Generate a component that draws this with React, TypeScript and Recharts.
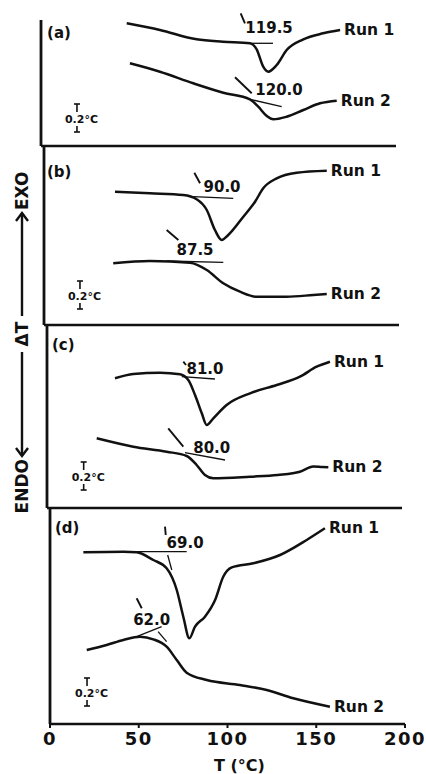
import { LineChart, Line, XAxis, YAxis, ReferenceLine, ReferenceDot } from 'recharts';

type Pt = [number, number];
type Note = { text: string; t: number; y: number };

// T (°C) vs. ΔT trace height above each panel's baseline (arbitrary units)
const A_RUN1: Pt[] = [[48.3, 122.7], [67, 116], [87.7, 106.7], [102.5, 104.3], [117.7, 102.7], [121.5, 96.7], [125.2, 79.3], [128, 74.3], [132.8, 81], [138.4, 96], [147.8, 106.7], [159, 112.7], [168.5, 116]];
const A_RUN2: Pt[] = [[50.1, 82.7], [67, 74.3], [85.8, 62.7], [102.7, 53.3], [117.7, 46.7], [122.4, 39.3], [127.2, 30], [130.9, 26.7], [138.4, 29.3], [147.8, 36], [157.2, 42.7], [166.6, 45.3]];
const B_RUN1: Pt[] = [[40, 133.3], [59.7, 131.7], [78.5, 130], [86, 125.7], [91.7, 115], [96.3, 95], [100.1, 85], [103.8, 90], [112.3, 108.3], [118.9, 123.3], [123.5, 136.7], [131.1, 146.7], [142.4, 152.3], [159.3, 154.3]];
const B_RUN2: Pt[] = [[39, 61.7], [59.7, 64], [82.3, 62.3], [91.7, 55], [101, 41.7], [110.4, 33.3], [119.8, 28.3], [136.7, 28.3], [151.7, 30], [159.3, 31]];
const C_RUN1: Pt[] = [[38.3, 129.7], [48.6, 134], [63.7, 135.3], [74.9, 133.7], [79.6, 128], [83.4, 113], [87.2, 94.7], [90, 83], [93.7, 89.7], [101.2, 103], [114.4, 114.7], [129.4, 123], [142.5, 131.3], [151.9, 141.3], [159.4, 146.3]];
const C_RUN2: Pt[] = [[28, 69.7], [48.6, 61.3], [67.4, 56.3], [78.7, 52], [84.3, 43], [89, 33], [93.7, 29.7], [114.4, 31.3], [130, 33], [142.5, 36.3], [150, 41.5], [155, 41], [158.5, 40.7]];
const D_RUN1: Pt[] = [[18.8, 171.7], [41.3, 172.3], [48.8, 171.7], [58.2, 164], [65.7, 155.7], [71.4, 134], [75.1, 107.3], [78.5, 85.7], [81.7, 97.3], [87.3, 107.3], [93, 124], [97.6, 147.3], [102.4, 156.7], [114.5, 160.7], [129.6, 169], [144.6, 184], [154.9, 195.7]];
const D_RUN2: Pt[] = [[20.7, 74], [31.9, 79], [41.3, 84], [50.7, 87.3], [58.2, 84.7], [65.7, 77.3], [71.4, 64], [77, 51.3], [88.3, 44], [107, 39], [122.1, 34], [137.1, 25.7], [157.7, 17.3]];

// onset construction lines
const A_TANGENTS: [Pt, Pt][] = [[[113.8, 102.7], [130.7, 102.7]], [[117.7, 46.7], [135.6, 39.3]]];
const B_TANGENTS: [Pt, Pt][] = [[[84.1, 128.3], [106.6, 126.7]], [[69.1, 64], [101, 62.7]]];
const C_TANGENTS: [Pt, Pt][] = [[[75.9, 131.3], [94.6, 129]], [[77.7, 55.3], [100.3, 48]]];
const D_TANGENTS: [Pt, Pt][] = [[[41.3, 172.3], [77, 172.3]], [[66.3, 169], [68.6, 154]], [[48.8, 87.3], [62.9, 97.3]], [[60.9, 92.3], [65.7, 82.3]]];

const A_TICKS: [Pt, Pt][] = [[[112.5, 132.7], [114.9, 122.7]], [[109.3, 68.7], [118.7, 52.7]]];
const B_TICKS: [Pt, Pt][] = [[[84.7, 152.3], [87.9, 141.7]], [[69.1, 95], [75.7, 85]]];
const C_TICKS: [Pt, Pt][] = [[[76.8, 146.3], [78.3, 143]], [[68.3, 79.7], [76.8, 61.3]]];
const D_TICKS: [Pt, Pt][] = [[[64.8, 197.3], [65.2, 189]], [[48.8, 125.7], [51.7, 115.7]]];

const A_NOTES: Note[] = [{ text: '119.5', t: 128.5, y: 118 }, { text: '120.0', t: 134.1, y: 56.5 }];
const B_NOTES: Note[] = [{ text: '90.0', t: 100.3, y: 138.3 }, { text: '87.5', t: 85.1, y: 75 }];
const C_NOTES: Note[] = [{ text: '81.0', t: 89, y: 138.7 }, { text: '80.0', t: 92.8, y: 59.7 }];
const D_NOTES: Note[] = [{ text: '69.0', t: 76.1, y: 180.7 }, { text: '62.0', t: 57.3, y: 104 }];

const X_TICKS = [0, 50, 100, 150, 200];
const RUN_NAMES = ['Run 1', 'Run 2'];

const FONT = "'DejaVu Sans', sans-serif";
const INK = '#111';

const toRows = (pts: Pt[]) => pts.map(([t, y]) => ({ t, y }));

const PANELS = [
  { tag: '(a)', tagAt: [3.4, 113] as Pt, scaleAt: [13.5, 27] as Pt, runs: [A_RUN1, A_RUN2], tangents: A_TANGENTS, ticks: A_TICKS, notes: A_NOTES, top: 6, plotH: 140, axisTop: 126, left: 41 },
  { tag: '(b)', tagAt: [1.7, 153] as Pt, scaleAt: [13.5, 29] as Pt, runs: [B_RUN1, B_RUN2], tangents: B_TANGENTS, ticks: B_TICKS, notes: B_NOTES, top: 146, plotH: 179, axisTop: 179, left: 44 },
  { tag: '(c)', tagAt: [2.8, 163] as Pt, scaleAt: [13.9, 31] as Pt, runs: [C_RUN1, C_RUN2], tangents: C_TANGENTS, ticks: C_TICKS, notes: C_NOTES, top: 325, plotH: 183, axisTop: 183, left: 47 },
  { tag: '(d)', tagAt: [2.8, 196] as Pt, scaleAt: [14.1, 31] as Pt, runs: [D_RUN1, D_RUN2], tangents: D_TANGENTS, ticks: D_TICKS, notes: D_NOTES, top: 508, plotH: 216, axisTop: 216, left: 50 },
];

function TextAt({ cx, cy, text, anchor = 'middle', size = 15, dx = 0 }: { cx?: number; cy?: number; text: string; anchor?: 'start' | 'middle' | 'end'; size?: number; dx?: number }) {
  return (
    <text x={(cx ?? 0) + dx} y={cy} textAnchor={anchor} dominantBaseline="central" fontFamily={FONT} fontWeight={700} fontSize={size} fill={INK}>
      {text}
    </text>
  );
}

// little "0.2°C" calibration marker
function ScaleMark({ cx = 0, cy = 0 }: { cx?: number; cy?: number }) {
  const bx = cx + 12;
  return (
    <g stroke={INK} strokeWidth={1.6}>
      <line x1={bx - 3} y1={cy - 15} x2={bx + 3} y2={cy - 15} />
      <line x1={bx} y1={cy - 15} x2={bx} y2={cy - 7} />
      <line x1={bx} y1={cy + 7} x2={bx} y2={cy + 13} />
      <line x1={bx - 3} y1={cy + 13} x2={bx + 3} y2={cy + 13} />
      <text x={cx} y={cy} dominantBaseline="central" fontFamily={FONT} fontWeight={700} fontSize={11} fill={INK} stroke="none">
        0.2°C
      </text>
    </g>
  );
}

function AxisTitle({ viewBox }: { viewBox?: { x: number; y: number; width: number; height: number } }) {
  if (!viewBox) return null;
  return (
    <text x={viewBox.x + viewBox.width / 2 + 12} y={viewBox.y + 41} textAnchor="middle" dominantBaseline="central" fontFamily={FONT} fontWeight={700} fontSize={16} fill={INK}>
      T (°C)
    </text>
  );
}

function Panel({ p, last }: { p: (typeof PANELS)[number]; last: boolean }) {
  const axisH = last ? 50 : 8;
  const width = 426;
  return (
    <div style={{ position: 'absolute', left: 0, top: p.top }}>
      <LineChart width={width} height={p.plotH + axisH} margin={{ top: 0, right: width - p.left - 355, bottom: 0, left: p.left }}>
        <XAxis
          type="number"
          dataKey="t"
          domain={[0, 200]}
          ticks={X_TICKS}
          interval={0}
          height={axisH}
          axisLine={{ stroke: INK, strokeWidth: 2.6 }}
          tickLine={{ stroke: INK, strokeWidth: 2 }}
          tickSize={4}
          tickMargin={4}
          tick={last ? { fill: INK, fontSize: 18, fontWeight: 700, fontFamily: FONT, letterSpacing: 1.5 } : false}
          label={last ? <AxisTitle /> : undefined}
        />
        <YAxis hide type="number" domain={[0, p.plotH]} />
        <ReferenceLine segment={[{ x: 0, y: 0 }, { x: 0, y: p.axisTop }]} stroke={INK} strokeWidth={2.8} />
        {p.runs.map((run, i) => (
          <Line key={`run${i}`} data={toRows(run)} dataKey="y" type="monotone" stroke={INK} strokeWidth={2.5} dot={false} isAnimationActive={false} />
        ))}
        {p.tangents.map((seg, i) => (
          <Line key={`tan${i}`} data={toRows(seg)} dataKey="y" type="linear" stroke={INK} strokeWidth={1.3} dot={false} isAnimationActive={false} />
        ))}
        {p.ticks.map((seg, i) => (
          <Line key={`tick${i}`} data={toRows(seg)} dataKey="y" type="linear" stroke={INK} strokeWidth={1.9} dot={false} isAnimationActive={false} />
        ))}
        {p.notes.map((n) => (
          <ReferenceDot key={n.text} x={n.t} y={n.y} r={0} shape={(props: { cx?: number; cy?: number }) => <TextAt {...props} text={n.text} />} />
        ))}
        {p.runs.map((run, i) => {
          const [t, y] = run[run.length - 1];
          return (
            <ReferenceDot key={`name${i}`} x={t} y={y} r={0} shape={(props: { cx?: number; cy?: number }) => <TextAt {...props} text={RUN_NAMES[i]} anchor="start" dx={4} size={15.5} />} />
          );
        })}
        <ReferenceDot x={p.tagAt[0]} y={p.tagAt[1]} r={0} shape={(props: { cx?: number; cy?: number }) => <TextAt {...props} text={p.tag} anchor="start" />} />
        <ReferenceDot x={p.scaleAt[0]} y={p.scaleAt[1]} r={0} shape={(props: { cx?: number; cy?: number }) => <ScaleMark {...props} />} />
      </LineChart>
    </div>
  );
}

// rotated "ENDO <-- ΔT --> EXO" side label
function SideLabel() {
  const txt = { fontFamily: FONT, fontWeight: 700, fontSize: 17, fill: INK, dominantBaseline: 'central' as const };
  return (
    <svg width={44} height={774} style={{ position: 'absolute', left: 0, top: 0 }}>
      <g transform="translate(22,338) rotate(-90)">
        <text x={-121} y={0} textAnchor="end" {...txt}>ENDO</text>
        <g stroke={INK} strokeWidth={2.4} fill="none">
          <line x1={-118} y1={0} x2={-14} y2={0} />
          <polyline points="-110,-6 -118,0 -110,6" />
          <line x1={22} y1={0} x2={125} y2={0} />
          <polyline points="117,-6 125,0 117,6" />
        </g>
        <text x={4} y={0} textAnchor="middle" {...txt}>ΔT</text>
        <text x={128} y={0} textAnchor="start" {...txt}>EXO</text>
      </g>
    </svg>
  );
}

export default function App() {
  return (
    <div style={{ position: 'absolute', left: 0, top: 0, width: 426, height: 774, background: '#fff', overflow: 'hidden' }}>
      <SideLabel />
      {PANELS.map((p, i) => (
        <Panel key={p.tag} p={p} last={i === PANELS.length - 1} />
      ))}
    </div>
  );
}
